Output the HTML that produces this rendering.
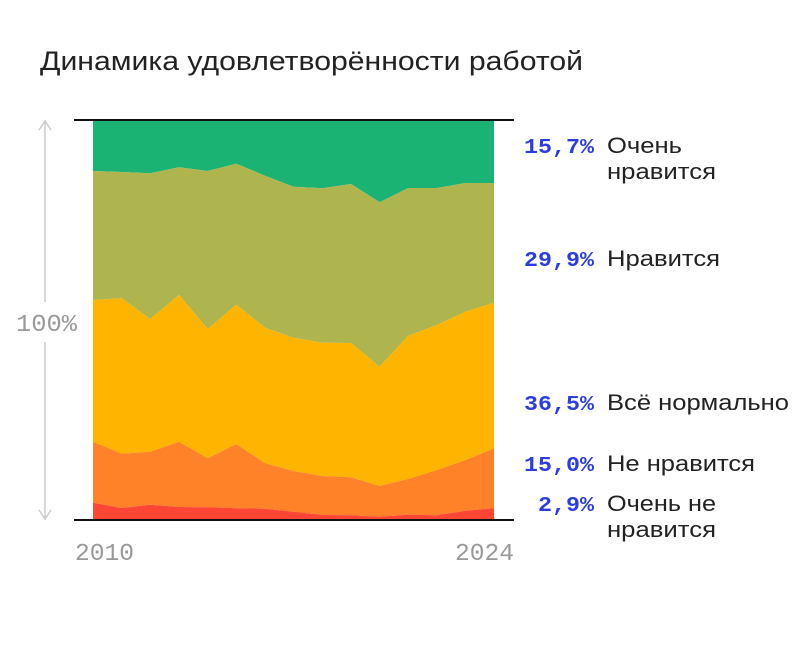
<!DOCTYPE html>
<html><head><meta charset="utf-8"><style>
body{margin:0;background:#fff;width:800px;height:640px;overflow:hidden}
</style></head><body>
<svg width="800" height="640" xmlns="http://www.w3.org/2000/svg">
<rect width="800" height="640" fill="#fff"/>
<text x="40" y="70" font-family="Liberation Sans, sans-serif" font-size="27" fill="#222" textLength="543" lengthAdjust="spacingAndGlyphs">Динамика удовлетворённости работой</text>
<polygon fill="#1bb373" points="93,120 494,120 494,183 465.7,183 437,188 408.3,188 379.7,202.3 351,184 322.3,188.3 293.3,186.7 265,175.7 236.3,163.7 207.7,171 179,167.3 150.3,173.3 121.7,172 93,171"/>
<polygon fill="#aeb54e" points="93,171 121.7,172 150.3,173.3 179,167.3 207.7,171 236.3,163.7 265,175.7 293.3,186.7 322.3,188.3 351,184 379.7,202.3 408.3,188 437,188 465.7,183 494,183 494,302.7 465.7,311.7 437,325 408.3,335.7 379.7,366.7 351,343 322.3,342.7 293.3,337.7 265,327.7 236.3,304.7 207.7,329 179,295 150.3,319 121.7,298.3 93,300"/>
<polygon fill="#ffb400" points="93,300 121.7,298.3 150.3,319 179,295 207.7,329 236.3,304.7 265,327.7 293.3,337.7 322.3,342.7 351,343 379.7,366.7 408.3,335.7 437,325 465.7,311.7 494,302.7 494,448.3 465.7,460 437,470 408.3,479 379.7,486 351,477.3 322.3,476 293.3,471 265,463.3 236.3,444 207.7,458.3 179,441.7 150.3,451.7 121.7,453.7 93,441.7"/>
<polygon fill="#ff8228" points="93,441.7 121.7,453.7 150.3,451.7 179,441.7 207.7,458.3 236.3,444 265,463.3 293.3,471 322.3,476 351,477.3 379.7,486 408.3,479 437,470 465.7,460 494,448.3 494,508.3 465.7,510.7 437,515.3 408.3,514.7 379.7,516.7 351,515.3 322.3,515 293.3,511.7 265,508.7 236.3,508.3 207.7,507.3 179,507 150.3,504.7 121.7,508 93,502.7"/>
<polygon fill="#ff4534" points="93,502.7 121.7,508 150.3,504.7 179,507 207.7,507.3 236.3,508.3 265,508.7 293.3,511.7 322.3,515 351,515.3 379.7,516.7 408.3,514.7 437,515.3 465.7,510.7 494,508.3 494,520 93,520"/>
<line x1="74" y1="120" x2="514" y2="120" stroke="#111" stroke-width="2"/>
<line x1="74" y1="520" x2="514" y2="520" stroke="#111" stroke-width="2"/>
<line x1="45" y1="121" x2="45" y2="302" stroke="#ccc" stroke-width="1.5"/>
<line x1="45" y1="342" x2="45" y2="519" stroke="#ccc" stroke-width="1.5"/>
<polyline points="39,130 45,121 51,130" fill="none" stroke="#ccc" stroke-width="1.5"/>
<polyline points="39,510 45,519 51,510" fill="none" stroke="#ccc" stroke-width="1.5"/>
<text x="16" y="331" font-family="Liberation Mono, monospace" font-size="24" fill="#999" textLength="61" lengthAdjust="spacingAndGlyphs">100%</text>
<text x="75" y="560" font-family="Liberation Mono, monospace" font-size="24" fill="#999" textLength="59" lengthAdjust="spacingAndGlyphs">2010</text>
<text x="455" y="560" font-family="Liberation Mono, monospace" font-size="24" fill="#999" textLength="59" lengthAdjust="spacingAndGlyphs">2024</text>
<g font-family="Liberation Mono, monospace" font-size="21" font-weight="bold" fill="#2b3ddf">
<text x="524" y="153" textLength="70" lengthAdjust="spacingAndGlyphs">15,7%</text>
<text x="524" y="266" textLength="70" lengthAdjust="spacingAndGlyphs">29,9%</text>
<text x="524" y="410" textLength="70" lengthAdjust="spacingAndGlyphs">36,5%</text>
<text x="524" y="471" textLength="70" lengthAdjust="spacingAndGlyphs">15,0%</text>
<text x="538" y="511" textLength="56" lengthAdjust="spacingAndGlyphs">2,9%</text>
</g>
<g font-family="Liberation Sans, sans-serif" font-size="22" fill="#222" lengthAdjust="spacingAndGlyphs">
<text x="607" y="153" textLength="75" lengthAdjust="spacingAndGlyphs">Очень</text>
<text x="607" y="179" textLength="109" lengthAdjust="spacingAndGlyphs">нравится</text>
<text x="607" y="266" textLength="113" lengthAdjust="spacingAndGlyphs">Нравится</text>
<text x="607" y="410" textLength="182" lengthAdjust="spacingAndGlyphs">Всё нормально</text>
<text x="607" y="471" textLength="148" lengthAdjust="spacingAndGlyphs">Не нравится</text>
<text x="607" y="511" textLength="109" lengthAdjust="spacingAndGlyphs">Очень не</text>
<text x="607" y="537" textLength="109" lengthAdjust="spacingAndGlyphs">нравится</text>
</g>
</svg>
</body></html>
